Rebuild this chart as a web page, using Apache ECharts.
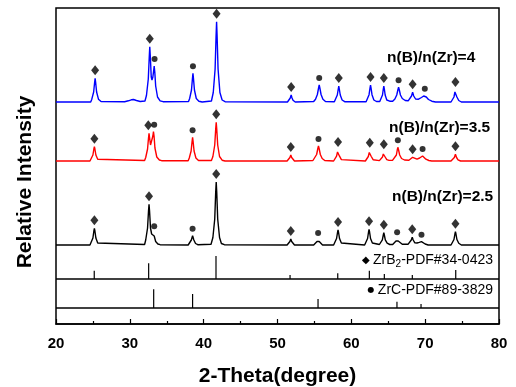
<!DOCTYPE html>
<html>
<head>
<meta charset="utf-8">
<script src="https://cdn.jsdelivr.net/npm/echarts@6/dist/echarts.min.js"></script>
<style>html,body{margin:0;padding:0;background:#fff}#c{width:516px;height:387px}</style>
</head>
<body>
<div id="c"></div>
<script>
// x-axis ticks (2-Theta, degree)
const xTicks = [20, 30, 40, 50, 60, 70, 80];

// Measured patterns: [2-Theta, relative intensity above the trace's own baseline]
const pattern25 = [[20,0],
 [24.6,0],[24.75,2],[25.0,7],[25.13,14],[25.2,16.7],[25.27,14],[25.4,7],[25.65,2],[25.9,0.3],
 [32.0,0.5],[32.15,5],[32.4,17],[32.53,34],[32.6,40.7],[32.67,34],[32.8,17],[32.95,11],[33.1,11],[33.2,11.7],[33.3,9],[33.5,3.5],[33.8,1],[34.1,0.3],
 [37.9,0],[38.1,1.5],[38.33,5],[38.5,9.3],[38.67,5],[38.9,1.5],[39.2,0.3],
 [41.0,0.8],[41.25,7.5],[41.5,26],[41.63,53],[41.7,63],[41.77,53],[41.9,26],[42.15,7.5],[42.4,1.5],[42.8,0.3],
 [51.3,0],[51.55,1.5],[51.68,3.5],[51.8,6],[51.92,3.5],[52.05,1.5],[52.3,0],
 [54.9,0],[55.15,1.5],[55.35,3.5],[55.5,5],[55.65,3.5],[55.85,1.5],[56.1,0],
 [57.6,0],[57.75,2],[58.0,6.5],[58.13,12.5],[58.2,15],[58.27,12.5],[58.4,6.5],[58.65,2],[58.9,0.3],
 [61.8,0],[61.95,2],[62.2,6.5],[62.33,13],[62.4,15.7],[62.47,13],[62.6,6.5],[62.85,2],[63.1,0.5],
 [63.8,0.5],[63.95,1.8],[64.2,5.2],[64.33,10],[64.4,12.3],[64.47,10],[64.6,5.2],[64.85,1.8],[65.2,0.5],
 [65.6,0.5],[65.85,2],[66.05,4],[66.2,5.7],[66.35,4],[66.55,2],[66.9,0.8],
 [67.7,0.8],[67.95,2],[68.12,5],[68.25,7.7],[68.38,5],[68.6,2.2],[68.9,2],[69.2,2.6],[69.5,3.3],[69.7,2.5],[70.0,1],[70.4,0],
 [73.5,0],[73.65,1.8],[73.9,5.5],[74.03,11],[74.1,13.3],[74.17,11],[74.3,5.5],[74.55,1.8],[74.9,0],
 [80,0]];

const pattern35 = [[20,0],
 [24.6,0],[24.75,1.7],[25.0,6],[25.13,12],[25.2,14.3],[25.27,12],[25.4,6],[25.65,1.7],[25.9,0.3],
 [32.0,0.5],[32.15,3.5],[32.4,12],[32.53,23],[32.6,27.7],[32.68,23],[32.8,16],[32.9,15],[33.0,18],[33.12,25],[33.2,29.3],[33.28,25],[33.4,13],[33.65,4],[34.0,1],[34.3,0.3],
 [37.9,0.3],[38.05,3],[38.3,10],[38.43,19.5],[38.5,23.7],[38.57,19.5],[38.7,10],[38.95,3],[39.3,0.5],
 [41.05,0.5],[41.25,4.5],[41.5,16],[41.63,32],[41.7,38.7],[41.77,32],[41.9,16],[42.15,4.5],[42.5,0.8],[42.9,0],
 [51.3,0],[51.55,1.5],[51.68,3.5],[51.8,6],[51.92,3.5],[52.05,1.5],[52.3,0],
 [54.8,0.5],[55.05,2.5],[55.3,6.5],[55.45,12],[55.55,15],[55.65,12],[55.8,6.5],[56.05,2.5],[56.4,0.5],
 [57.6,0],[57.75,1.4],[58.0,4.8],[58.13,9],[58.2,11],[58.27,9],[58.4,4.8],[58.65,1.4],[58.9,0.3],
 [61.9,0],[62.05,1.3],[62.3,4.5],[62.43,8.5],[62.5,10.3],[62.57,8.5],[62.7,4.5],[62.95,1.3],[63.2,0.4],
 [63.8,0.4],[64.0,1.3],[64.22,4],[64.33,7],[64.4,8.7],[64.47,7],[64.58,4],[64.8,1.3],[65.1,0.6],
 [65.6,0.8],[65.85,2.5],[66.1,6],[66.22,11],[66.3,13.7],[66.4,11],[66.55,6],[66.8,2.5],[67.2,1],
 [67.8,0.8],[68.05,1.5],[68.3,3.7],[68.55,1.8],[68.9,1.8],[69.25,3],[69.5,4.5],[69.65,5],[69.85,3.8],[70.1,1.8],[70.5,0.5],[70.9,0],
 [73.5,0],[73.75,1.2],[73.95,3.5],[74.1,6.7],[74.25,3.5],[74.45,1.2],[74.8,0],
 [80,0]];

const pattern4 = [[20,0],
 [24.7,0],[24.85,2.8],[25.1,10],[25.23,19.5],[25.3,23.7],[25.37,19.5],[25.5,10],[25.75,2.8],[26.1,0.5],
 [29.3,0.3],[29.8,1.2],[30.2,2.2],[30.5,2.5],[30.9,1.5],[31.4,0.5],
 [32.05,1],[32.25,6.5],[32.5,23],[32.63,45],[32.7,55.3],[32.78,45],[32.9,25],[33.0,22],[33.12,25],[33.22,31],[33.3,36],[33.38,30],[33.5,16],[33.75,5],[34.1,1.2],[34.5,0.3],
 [37.95,0.5],[38.1,3.5],[38.35,12],[38.48,23.5],[38.55,28.7],[38.62,23.5],[38.75,12],[39.0,3.5],[39.35,0.8],[39.8,0],
 [41.05,1],[41.3,9.5],[41.55,33],[41.68,66],[41.75,80.3],[41.82,66],[41.95,33],[42.2,9.5],[42.5,2],[42.9,0.3],
 [51.35,0],[51.6,1.7],[51.73,4],[51.85,7],[51.97,4],[52.1,1.7],[52.4,0],
 [54.9,0.5],[55.15,2.8],[55.4,7.5],[55.55,13.5],[55.65,17],[55.75,13.5],[55.9,7.5],[56.15,2.8],[56.5,0.5],
 [57.7,0.3],[57.85,2],[58.1,7],[58.23,13],[58.3,16],[58.37,13],[58.5,7],[58.75,2],[59.1,0.3],
 [62.0,0.3],[62.15,2],[62.4,7.3],[62.53,14],[62.6,17],[62.67,14],[62.8,7.3],[63.05,2],[63.4,0.5],
 [63.85,0.5],[64.0,2],[64.22,7],[64.33,13],[64.4,16],[64.47,13],[64.58,7],[64.8,2],[65.2,0.8],
 [65.6,0.8],[65.9,3],[66.15,7],[66.3,12],[66.4,14.7],[66.5,12],[66.65,7],[66.9,3.5],[67.3,1.5],
 [67.7,1.2],[67.95,2.5],[68.15,6],[68.3,9.7],[68.45,6],[68.7,3],[69.1,2.8],[69.5,4.5],[69.8,6],[69.95,6.3],[70.15,5],[70.45,2.5],[70.9,0.8],[71.4,0],
 [73.5,0],[73.65,1.5],[73.9,5],[74.03,10],[74.1,12],[74.17,10],[74.3,5],[74.55,1.5],[74.9,0],
 [80,0]];

// Phase-identified peaks [2-Theta, peak intensity]
const zrb2Peaks25 = [[25.2,16.7],[32.6,40.7],[41.7,63],[51.8,6],[58.2,15],[62.4,15.7],[64.4,12.3],[68.25,7.7],[74.1,13.3]];
const zrcPeaks25  = [[33.3,11.7],[38.5,9.3],[55.5,5],[66.2,5.7],[69.5,3.3]];
const zrb2Peaks35 = [[25.2,14.3],[32.5,27.7],[41.7,38.7],[51.8,6],[58.2,11],[62.5,10.3],[64.4,8.7],[68.3,3.7],[74.1,6.7]];
const zrcPeaks35  = [[33.3,29.3],[38.5,23.7],[55.55,15],[66.3,13.7],[69.65,5]];
const zrb2Peaks4  = [[25.3,23.7],[32.7,55.3],[41.75,80.3],[51.85,7],[58.3,16],[62.6,17],[64.4,16],[68.3,9.7],[74.1,12]];
const zrcPeaks4   = [[33.35,36],[38.55,28.7],[55.65,17],[66.4,14.7],[69.95,6.3]];

// Reference cards [2-Theta, relative intensity]
const zrb2Card = [[25.18,8.3],[32.55,15.7],[41.67,23],[51.7,4],[58.16,5.7],[62.44,8.3],[64.47,5],[68.26,4],[74.14,9]];
const zrcCard  = [[33.23,18.7],[38.5,14],[55.49,9],[66.18,6.3],[69.44,4]];

const sampleNames = ['n(B)/n(Zr)=2.5', 'n(B)/n(Zr)=3.5', 'n(B)/n(Zr)=4'];

// ---- layout (vertical offsets of stacked patterns, a.u.) ----
const offsets = [79, 163, 222];
const cardBase = [45, 16];
const font = "'Liberation Sans', Arial, sans-serif";

const chart = echarts.init(document.getElementById('c'));
const shift = (arr, o) => arr.map(p => [p[0], p[1] + o]);

function lineSeries(data, off, color) {
  return { type: 'line', data: shift(data, off), showSymbol: false, symbol: 'none',
    lineStyle: { color: color, width: 1.4 }, silent: true, animation: false, z: 2 };
}
function markerSeries(data, off, sym) {
  const isD = sym === 'diamond';
  return { type: 'scatter', data: shift(data, off), symbol: sym,
    symbolSize: isD ? [8, 10] : 6, symbolOffset: [0, isD ? -8 : -7],
    itemStyle: { color: '#000' }, silent: true, animation: false, z: 3 };
}
function cardSeries(data, base) {
  return { type: 'custom', data: data, silent: true, animation: false,
    renderItem: function (params, api) {
      const x = api.value(0), h = api.value(1);
      const p0 = api.coord([x, base]), p1 = api.coord([x, base + h]);
      return { type: 'line', shape: { x1: p0[0], y1: p0[1], x2: p1[0], y2: p1[1] },
        style: { stroke: '#000', lineWidth: 1.2 } };
    } };
}

const series = [
  lineSeries(pattern25, offsets[0], '#000000'),
  lineSeries(pattern35, offsets[1], '#ff0000'),
  lineSeries(pattern4, offsets[2], '#0000ff'),
  markerSeries(zrb2Peaks25, offsets[0], 'diamond'),
  markerSeries(zrcPeaks25, offsets[0], 'circle'),
  markerSeries(zrb2Peaks35, offsets[1], 'diamond'),
  markerSeries(zrcPeaks35, offsets[1], 'circle'),
  markerSeries(zrb2Peaks4, offsets[2], 'diamond'),
  markerSeries(zrcPeaks4, offsets[2], 'circle'),
  cardSeries(zrb2Card, cardBase[0]),
  Object.assign(cardSeries(zrcCard, cardBase[1]), {
    markLine: { silent: true, symbol: 'none', animation: false,
      label: { show: false },
      lineStyle: { color: '#000', width: 1.5, type: 'solid' },
      data: [{ yAxis: cardBase[0] }, { yAxis: cardBase[1] }] }
  })
];

chart.setOption({
  animation: false,
  backgroundColor: '#fff',
  grid: { left: 56, right: 17, top: 8, bottom: 63, show: true, borderColor: '#000', borderWidth: 1.5,
          containLabel: false, outerBoundsMode: 'none' },
  xAxis: {
    type: 'value', min: xTicks[0], max: xTicks[xTicks.length - 1], interval: 10,
    name: '2-Theta(degree)', nameLocation: 'middle', nameGap: 42,
    nameTextStyle: { fontFamily: font, fontWeight: 'bold', fontSize: 21, color: '#000' },
    axisLine: { show: true, lineStyle: { color: '#000', width: 1.5 } },
    axisTick: { show: true, inside: true, length: 5, lineStyle: { color: '#000', width: 1.2 } },
    minorTick: { show: true, splitNumber: 2, length: 3, lineStyle: { color: '#000', width: 1.2 } },
    splitLine: { show: false },
    axisLabel: { margin: 12, fontFamily: font, fontWeight: 'bold', fontSize: 15, color: '#000' }
  },
  yAxis: { type: 'value', min: 0, max: 316, show: false, splitLine: { show: false } },
  graphic: [
    { type: 'text', x: 25, y: 182, rotation: Math.PI / 2,
      style: { text: 'Relative Intensity', font: 'bold 21px ' + font, fill: '#000', align: 'center', verticalAlign: 'middle' } },
    { type: 'text', x: 387, y: 58, style: { text: sampleNames[2], font: 'bold 15.5px ' + font, fill: '#000', verticalAlign: 'middle' } },
    { type: 'text', x: 389, y: 128, style: { text: sampleNames[1], font: 'bold 15.5px ' + font, fill: '#000', verticalAlign: 'middle' } },
    { type: 'text', x: 392, y: 197, style: { text: sampleNames[0], font: 'bold 15.5px ' + font, fill: '#000', verticalAlign: 'middle' } },
    { type: 'text', x: 493, y: 260, style: {
      text: '{s|◆} {a|ZrB}{b|2}{a|-PDF#34-0423}', align: 'right', verticalAlign: 'middle',
      rich: { s: { fontFamily: 'DejaVu Sans', fontSize: 10, fill: '#000' },
              a: { fontFamily: font, fontSize: 14, fill: '#000' },
              b: { fontFamily: font, fontSize: 10, fill: '#000', padding: [8, 0, 0, 0] } } } },
    { type: 'text', x: 493, y: 290, style: {
      text: '{s|●} {a|ZrC-PDF#89-3829}', align: 'right', verticalAlign: 'middle',
      rich: { s: { fontFamily: 'DejaVu Sans', fontSize: 8, fill: '#000' },
              a: { fontFamily: font, fontSize: 14, fill: '#000' } } } }
  ],
  series: series
});
</script>
</body>
</html>
